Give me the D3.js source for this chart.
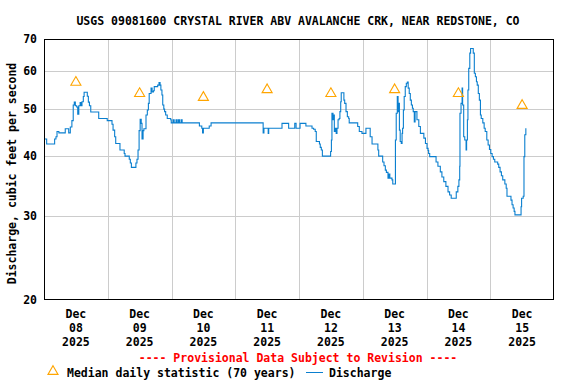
<!DOCTYPE html>
<html>
<head>
<meta charset="utf-8">
<script src="https://cdn.jsdelivr.net/npm/d3@7"></script>
<style>
  body { margin: 0; background: #fff; }
  svg text { font-family: "DejaVu Sans Mono", "Liberation Mono", monospace; font-weight: bold; }
</style>
</head>
<body>
<svg id="chart" width="576" height="384"></svg>
<script>
var hours = [
  0.2, 1.0, 4.0, 4.5, 4.9, 5.6, 8.0, 9.3, 9.9, 10.5, 11.0, 11.4, 11.8, 12.3, 12.7, 13.1, 13.6, 13.9, 14.3, 14.8,
  15.1, 16.3, 16.7, 17.1, 17.6, 20.6, 23.8, 25.6, 26.0, 26.6, 27.0, 28.6, 30.2, 30.5, 32.1, 32.5, 32.9, 34.6, 35.0, 35.4,
  35.8, 36.2, 36.6, 36.9, 37.3, 37.6, 38.4, 38.9, 39.3, 39.6, 40.3, 40.7, 41.2, 41.5, 42.8, 43.3, 43.7, 44.0, 44.4, 44.7,
  45.1, 45.4, 45.8, 46.4, 47.7, 47.9, 48.6, 49.0, 49.7, 50.1, 50.6, 51.0, 51.6, 52.0, 58.5, 59.4, 59.7, 60.0, 62.2, 62.9,
  82.5, 82.8, 84.4, 84.6, 89.6, 92.1, 94.4, 94.9, 96.4, 98.6, 100.9, 101.5, 102.1, 102.5, 103.7, 104.0, 104.4, 104.8, 107.9, 108.2,
  108.4, 108.8, 109.1, 109.3, 109.7, 110.0, 110.3, 110.7, 111.1, 111.4, 111.7, 111.9, 112.9, 113.2, 113.7, 114.2, 114.7, 114.9, 118.1, 118.7,
  119.7, 121.2, 122.8, 123.5, 125.7, 126.0, 127.5, 128.0, 128.5, 128.9, 129.5, 129.8, 130.2, 131.0, 131.3, 132.3, 132.6, 133.0, 133.3, 133.5,
  133.8, 134.1, 134.5, 134.8, 135.0, 135.3, 135.6, 136.0, 136.4, 136.8, 137.1, 137.5, 137.9, 138.3, 138.7, 139.0, 139.4, 139.7, 140.4, 141.1,
  141.7, 143.0, 143.6, 144.2, 144.6, 144.8, 145.2, 147.6, 148.3, 149.2, 149.8, 150.5, 151.3, 152.1, 152.7, 153.3, 155.2, 155.8, 156.2, 156.5,
  156.6, 157.0, 157.4, 157.6, 158.0, 158.4, 158.9, 159.1, 159.4, 159.6, 159.9, 160.3, 160.6, 161.6, 162.0, 162.4, 162.8, 163.1, 163.5, 163.9,
  164.3, 164.6, 165.2, 165.7, 166.1, 166.7, 167.2, 167.7, 168.2, 168.7, 169.2, 169.7, 170.8, 171.2, 171.7, 172.2, 172.7, 173.5, 174.0, 174.3,
  175.8, 176.2, 176.6, 177.0, 177.3, 179.6, 179.8, 180.4, 180.7, 181.0, 181.4
];
var discharge = [
  43.3, 42.3, 43.3, 43.8, 44.9, 44.6, 45.5, 44.6, 45.9, 47.3, 51.0, 51.7, 50.8, 50.5, 48.8, 50.8, 51.6, 50.8, 51.8, 53.1,
  54.2, 53.2, 51.7, 50.8, 49.3, 47.8, 47.3, 46.5, 45.2, 43.8, 42.4, 41.1, 40.4, 39.9, 39.3, 38.6, 37.8, 38.6, 39.3, 41.1,
  45.1, 47.6, 46.7, 43.3, 45.1, 45.5, 48.6, 49.8, 51.4, 53.9, 55.3, 54.3, 54.6, 55.7, 56.1, 56.8, 56.1, 54.8, 53.5, 51.0,
  50.0, 49.4, 48.6, 47.8, 47.5, 46.8, 47.5, 46.8, 47.5, 46.8, 47.5, 46.8, 47.5, 46.8, 46.1, 45.6, 44.6, 45.6, 46.1, 46.8,
  44.6, 45.6, 44.5, 45.6, 46.7, 45.6, 46.7, 45.6, 46.7, 46.1, 45.6, 45.4, 44.9, 42.8, 42.3, 41.6, 41.1, 39.9, 40.8, 43.1,
  49.0, 47.5, 48.6, 44.9, 45.6, 44.5, 45.6, 47.5, 47.8, 49.4, 51.8, 54.1, 52.2, 51.4, 49.4, 48.2, 47.8, 46.8, 46.0, 44.9,
  44.5, 45.6, 43.8, 42.3, 41.1, 39.9, 38.8, 38.1, 37.3, 36.9, 35.9, 36.6, 35.9, 35.6, 34.9, 43.1, 49.0, 53.1, 49.4, 51.4,
  45.2, 42.8, 42.4, 44.5, 45.6, 49.8, 53.1, 55.7, 56.6, 56.9, 55.3, 53.9, 52.2, 51.0, 50.2, 49.4, 47.0, 49.4, 47.5, 46.0,
  44.5, 43.5, 42.4, 41.4, 41.0, 40.4, 39.8, 38.8, 38.0, 37.0, 36.1, 35.3, 34.5, 33.6, 33.1, 32.6, 33.6, 34.5, 35.6, 38.0,
  49.0, 51.4, 55.3, 51.0, 43.8, 43.1, 41.1, 43.1, 47.5, 54.8, 60.8, 65.4, 66.9, 65.4, 59.4, 58.4, 57.0, 56.1, 53.9, 52.2,
  48.6, 47.8, 46.8, 45.6, 44.9, 43.1, 42.1, 41.2, 40.4, 39.8, 39.3, 38.8, 38.4, 37.8, 37.0, 36.3, 35.6, 34.9, 34.2, 32.9,
  32.3, 31.6, 31.1, 30.6, 30.1, 31.3, 32.6, 32.9, 39.8, 44.2, 45.6
];
var days = ['08', '09', '10', '11', '12', '13', '14', '15'];
var medians = [57, 54, 53, 55, 54, 55, 54, 51];
var yTicks = [20, 30, 40, 50, 60, 70];

(function() {
var svg = d3.select('#chart');
var pLeft = 44, pRight = 554, pTop = 39, pBottom = 300;
var start = new Date(2025, 11, 8);
function at(h) { return new Date(start.getTime() + h * 3600e3); }

var x = d3.scaleTime().domain([start, d3.timeDay.offset(start, 8)]).range([pLeft, pRight]);
var y = d3.scaleLog().domain([20, 70]).range([pBottom, pTop]);

// title
svg.append('text')
  .attr('x', 298).attr('y', 25)
  .attr('text-anchor', 'middle')
  .style('font-size', '11.5px')
  .text('USGS 09081600 CRYSTAL RIVER ABV AVALANCHE CRK, NEAR REDSTONE, CO');

// grid
var grid = svg.append('g').attr('stroke', '#cccccc').attr('shape-rendering', 'crispEdges');
grid.selectAll('line.h')
  .data(yTicks.slice(1, -1))
  .enter().append('line')
  .attr('x1', pLeft).attr('x2', pRight)
  .attr('y1', function(d) { return Math.round(y(d)) + 0.5; })
  .attr('y2', function(d) { return Math.round(y(d)) + 0.5; });
grid.selectAll('line.v')
  .data(d3.timeDay.range(d3.timeDay.offset(start, 1), d3.timeDay.offset(start, 8)))
  .enter().append('line')
  .attr('y1', pTop).attr('y2', pBottom)
  .attr('x1', function(d) { return Math.round(x(d)) + 0.5; })
  .attr('x2', function(d) { return Math.round(x(d)) + 0.5; });

// discharge line
var pts = hours.map(function(h, i) { return [at(h), discharge[i]]; });
svg.append('path')
  .datum(pts)
  .attr('fill', 'none')
  .attr('stroke', '#0a7fcf')
  .attr('stroke-width', 1.1)
  .attr('d', d3.line()
    .x(function(d) { return x(d[0]); })
    .y(function(d) { return y(d[1]); })
    .curve(d3.curveStepAfter));

// median triangles
var tri = d3.symbol().type(d3.symbolTriangle).size(44);
svg.selectAll('path.med')
  .data(medians)
  .enter().append('path')
  .attr('class', 'med')
  .attr('d', tri)
  .attr('transform', function(d, i) { return 'translate(' + x(at(24 * i + 12)) + ',' + (y(d) + 0.5) + ')'; })
  .attr('fill', 'none')
  .attr('stroke', '#ffa500')
  .attr('stroke-width', 1.1);

// frame
svg.append('rect')
  .attr('x', pLeft + 0.5).attr('y', pTop + 0.5)
  .attr('width', pRight - pLeft - 1).attr('height', pBottom - pTop - 1)
  .attr('fill', 'none').attr('stroke', '#000')
  .attr('shape-rendering', 'crispEdges');

// y axis labels
var yAxis = svg.append('g')
  .attr('transform', 'translate(' + pLeft + ',0)')
  .call(d3.axisLeft(y).tickValues(yTicks).tickSize(0).tickPadding(7).tickFormat(d3.format('d')));
yAxis.select('.domain').remove();
yAxis.selectAll('text').style('font-size', '11.5px').attr('fill', '#000')
  .style('font-family', '"DejaVu Sans Mono", monospace').style('font-weight', 'bold');

svg.append('text')
  .attr('transform', 'translate(16,' + ((pTop + pBottom) / 2 + 4) + ') rotate(-90)')
  .attr('text-anchor', 'middle')
  .style('font-size', '11.5px')
  .text('Discharge, cubic feet per second');

// x axis labels at noon of each day
var xLab = svg.append('g').selectAll('text')
  .data(days)
  .enter().append('text')
  .attr('text-anchor', 'middle')
  .attr('transform', function(d, i) { return 'translate(' + x(at(24 * i + 12)) + ',0)'; })
  .style('font-size', '11.5px');
['Dec', null, '2025'].forEach(function(t, k) {
  xLab.append('tspan')
    .attr('x', 0)
    .attr('y', 318 + 14 * k)
    .text(function(d) { return t === null ? d : t; });
});

// footer
svg.append('text')
  .attr('x', 298).attr('y', 362)
  .attr('text-anchor', 'middle')
  .attr('fill', '#ff0000')
  .style('font-size', '11.5px')
  .text('---- Provisional Data Subject to Revision ----');

var leg = svg.append('g');
leg.append('path')
  .attr('d', tri)
  .attr('transform', 'translate(53,371.5)')
  .attr('fill', 'none').attr('stroke', '#ffa500').attr('stroke-width', 1.1);
leg.append('text')
  .attr('x', 67).attr('y', 377)
  .style('font-size', '11.5px')
  .text('Median daily statistic (70 years)');
leg.append('line')
  .attr('x1', 306).attr('x2', 323).attr('y1', 372.5).attr('y2', 372.5)
  .attr('stroke', '#0a7fcf');
leg.append('text')
  .attr('x', 329).attr('y', 377)
  .style('font-size', '11.5px')
  .text('Discharge');
})();
</script>
</body>
</html>
